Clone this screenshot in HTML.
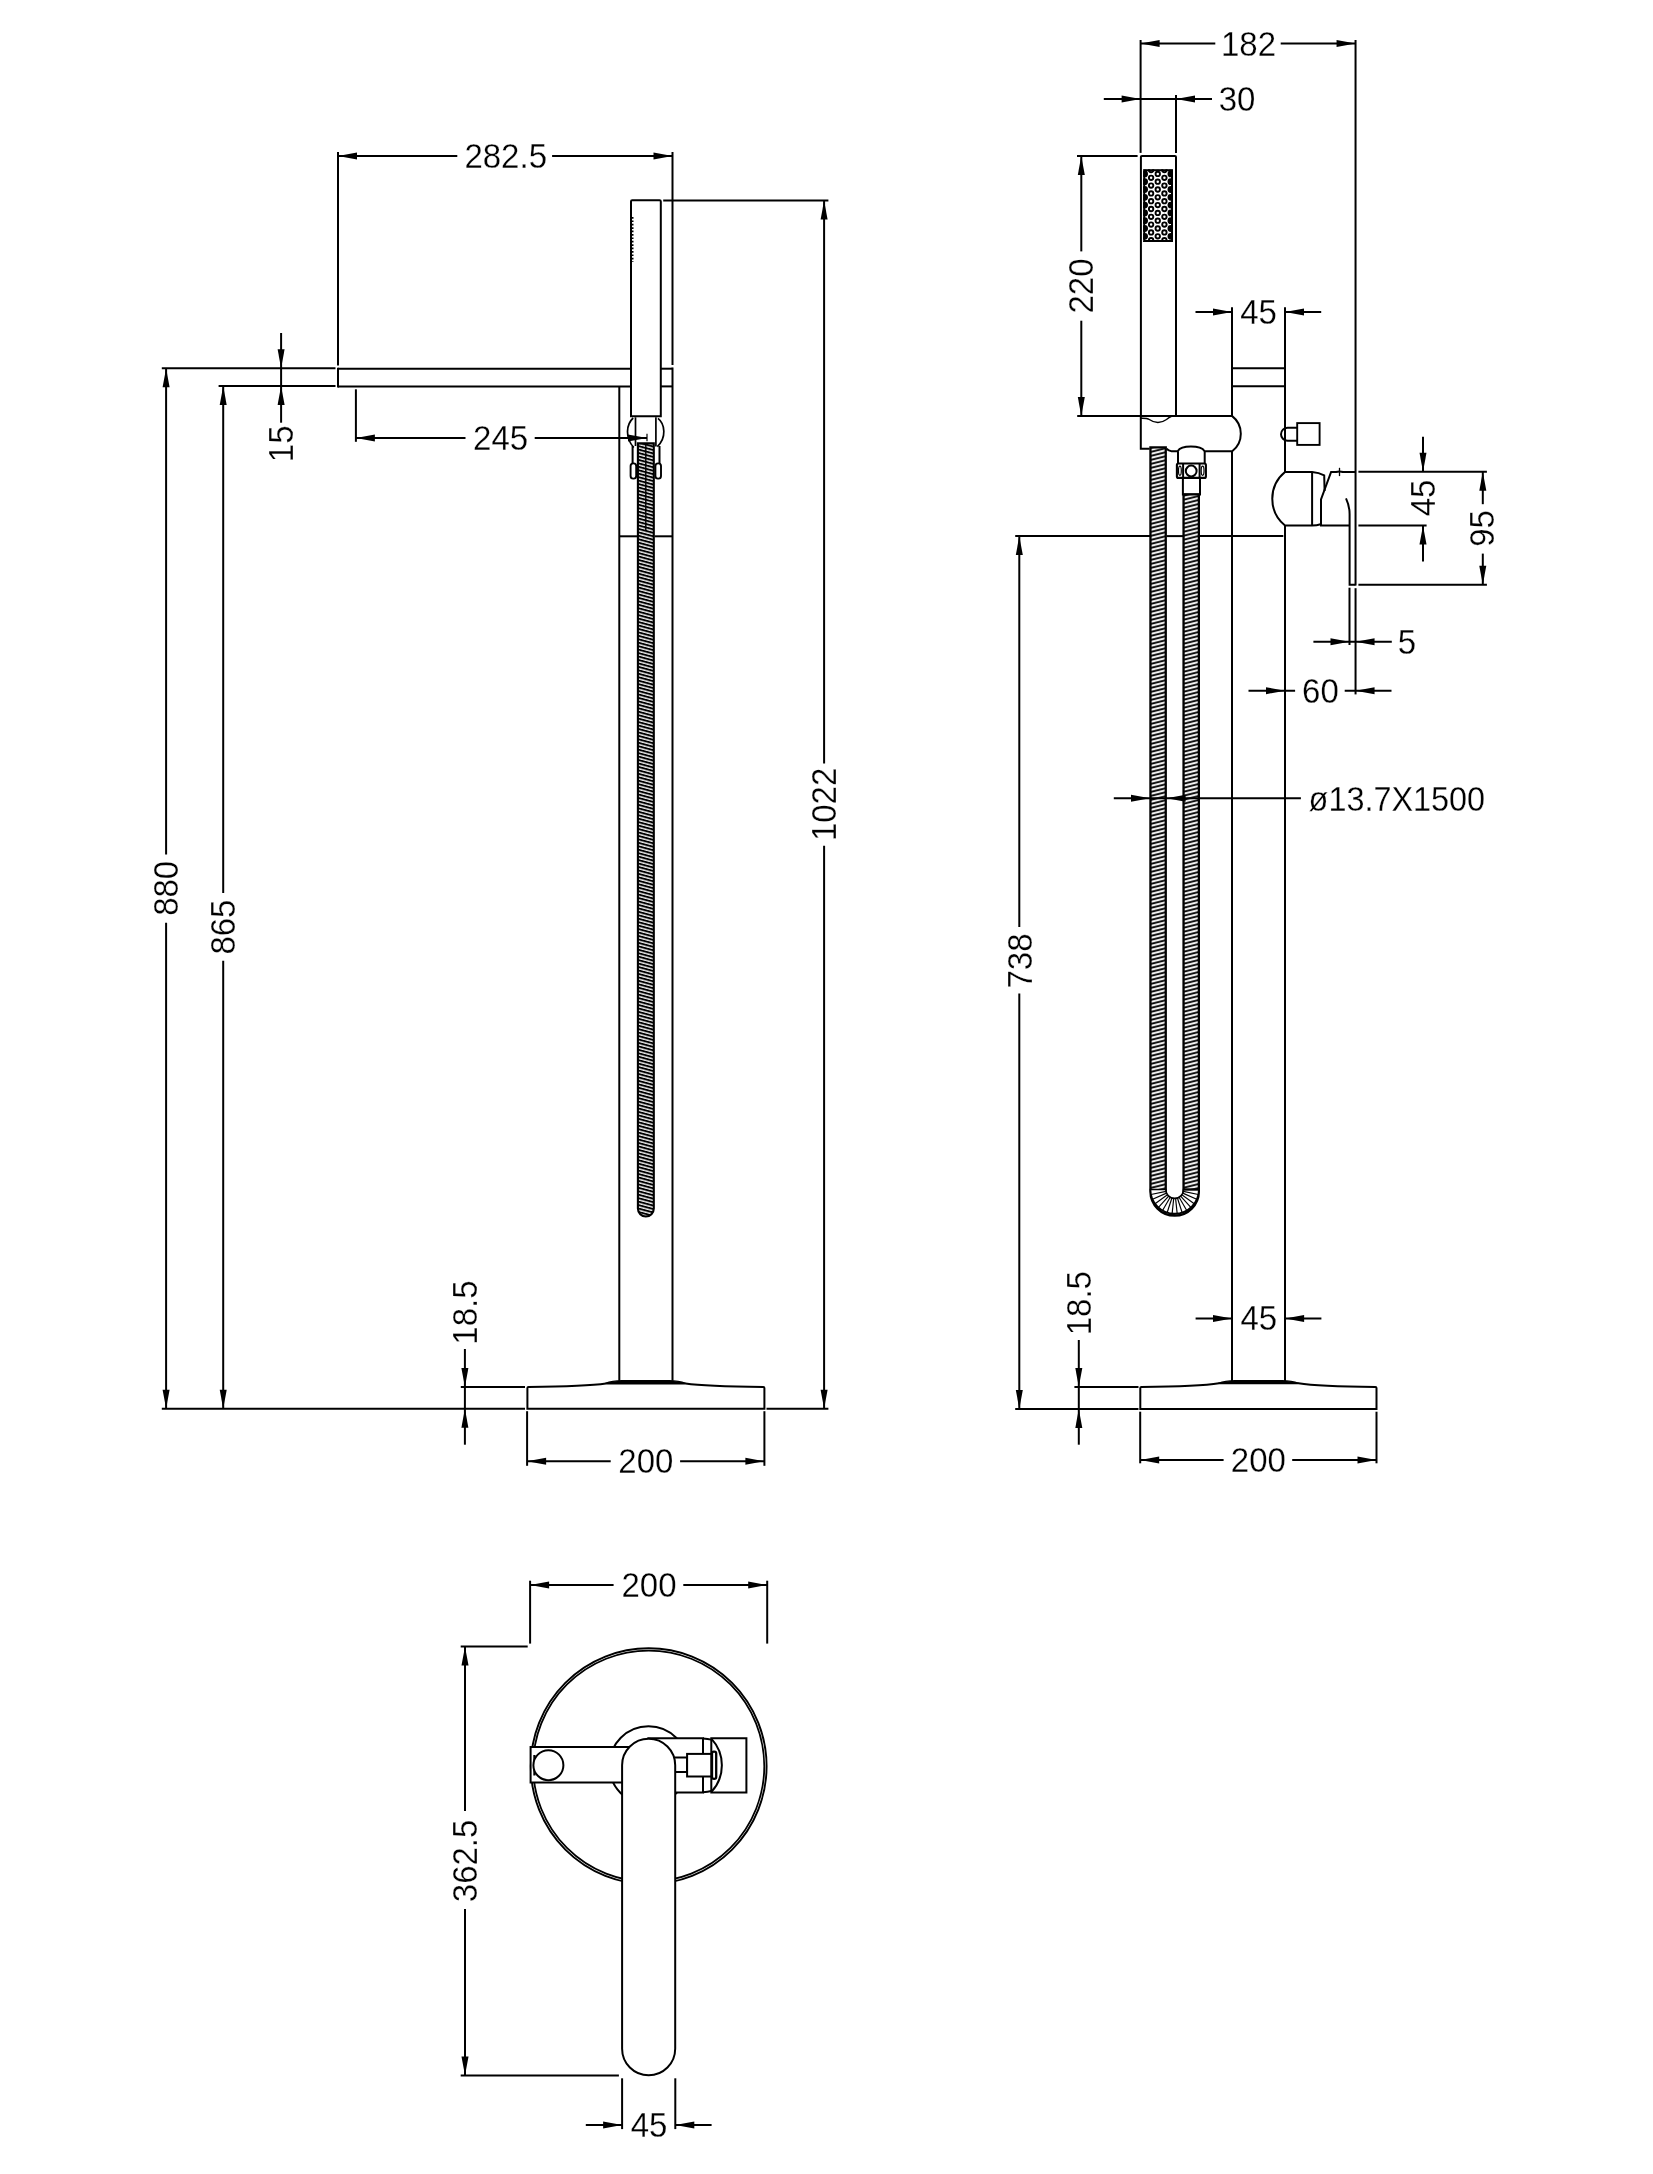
<!DOCTYPE html>
<html lang="en"><head><meta charset="utf-8"><title>Freestanding bath shower mixer - dimensions</title>
<style>
html,body{margin:0;padding:0;background:#fff}
body{width:1653px;height:2174px;overflow:hidden}
svg{display:block;filter:grayscale(1)}
.g{fill:none;stroke:#000;stroke-width:2;stroke-linecap:butt;stroke-linejoin:miter}
.ah{fill:#000;stroke:none}
text{font-family:"Liberation Sans",sans-serif;font-size:33px;fill:#000;stroke:#fff;stroke-width:0.25px;text-anchor:middle}
</style></head><body>
<svg role="img" aria-label="Dimension drawing of a freestanding bath shower mixer" width="1653" height="2174" viewBox="0 0 1653 2174">
<defs>
<pattern id="hA" width="8" height="3.45" patternUnits="userSpaceOnUse" patternTransform="translate(637 443) skewY(15)">
<rect width="8" height="3.45" fill="#000"/><rect y="0.3" width="8" height="1.35" fill="#fff"/>
</pattern>
<pattern id="hB" width="8" height="4" patternUnits="userSpaceOnUse" patternTransform="translate(1150 447) skewY(-14)">
<rect width="8" height="4" fill="#fff"/><rect y="0.2" width="8" height="1.95" fill="#000"/>
</pattern>
</defs>
<g class="g">
<!-- side elevation -->
<line x1="338" y1="368.7" x2="631" y2="368.7"/>
<line x1="661" y1="368.7" x2="672.5" y2="368.7"/>
<line x1="338" y1="386.4" x2="631" y2="386.4"/>
<line x1="661" y1="386.4" x2="672.5" y2="386.4"/>
<line x1="338" y1="367.7" x2="338" y2="387.4"/>
<line x1="619.3" y1="386" x2="619.3" y2="1380.7"/>
<line x1="672.5" y1="367.4" x2="672.5" y2="1380.7"/>
<line x1="619.3" y1="536.3" x2="637" y2="536.3"/>
<line x1="654.7" y1="536.3" x2="672.5" y2="536.3"/>
<path d="M631 416.3V201.5Q631 200.3 632.2 200.3H659.6Q660.8 200.3 660.8 201.5V416.3Z"/>
<line x1="632.7" y1="217" x2="632.7" y2="262" stroke-width="1.6" stroke-dasharray="1.7 1.7"/>
<path d="M633.2 418C626 424.5 625 438 633.8 447.5" stroke-width="1.7"/>
<path d="M658 418.4C665 424 666.8 437.5 657.3 446.6" stroke-width="1.7"/>
<line x1="635.5" y1="417.3" x2="635.5" y2="446" stroke-width="1.7"/>
<line x1="655.9" y1="417.3" x2="655.9" y2="446.5" stroke-width="1.7"/>
<line x1="632.6" y1="446" x2="632.6" y2="464"/>
<line x1="659.5" y1="446" x2="659.5" y2="464"/>
<rect x="630.6" y="463.4" width="5.6" height="15.2" rx="2.6" stroke-width="1.9"/>
<rect x="655.4" y="463.4" width="5.6" height="15.2" rx="2.6" stroke-width="1.9"/>
<path d="M637.9 443.4H653.8V1208.6A7.95 7.95 0 0 1 637.9 1208.6Z" fill="url(#hA)" stroke-width="2.1"/>
<line x1="645.8" y1="444" x2="645.8" y2="530" stroke-width="1.4"/>
<path d="M527.4 1408.7V1388Q527.4 1387 528.6 1386.9Q586.5 1386.3 606 1383.4H685.5Q705 1386.3 763.2 1386.9Q764.4 1387 764.4 1388V1408.7Z"/>
<path d="M605.5 1383.3Q612 1380.9 622 1380.7H669Q679 1380.9 685.5 1383.3Z" stroke-width="1.2" fill="#000"/>
<!-- side elevation dimensions -->
<line x1="338" y1="152" x2="338" y2="365.4"/>
<line x1="672.5" y1="152" x2="672.5" y2="365"/>
<line x1="338" y1="156" x2="457.3" y2="156"/>
<line x1="552.1" y1="156" x2="672.5" y2="156"/>
<polygon class="ah" points="338,156 357,152.5 357,159.5"/>
<polygon class="ah" points="672.5,156 653.5,152.5 653.5,159.5"/>
<text transform="translate(505.7 156.4) scale(1 1.04)" y="11.36">282.5</text>
<line x1="663.2" y1="200.4" x2="828.4" y2="200.4"/>
<line x1="766.5" y1="1408.7" x2="828.4" y2="1408.7"/>
<line x1="824.1" y1="200.4" x2="824.1" y2="763.4"/>
<line x1="824.1" y1="845.7" x2="824.1" y2="1408.7"/>
<polygon class="ah" points="824.1,200.4 820.6,219.4 827.6,219.4"/>
<polygon class="ah" points="824.1,1408.7 820.6,1389.7 827.6,1389.7"/>
<text transform="translate(824 804.4) rotate(-90) scale(1 1.04)" y="11.36">1022</text>
<line x1="161.8" y1="368.2" x2="335.5" y2="368.2"/>
<line x1="161.8" y1="1408.7" x2="525" y2="1408.7"/>
<line x1="166.1" y1="368.2" x2="166.1" y2="854.4"/>
<line x1="166.1" y1="922.8" x2="166.1" y2="1408.7"/>
<polygon class="ah" points="166.1,368.2 162.6,387.2 169.6,387.2"/>
<polygon class="ah" points="166.1,1408.7 162.6,1389.7 169.6,1389.7"/>
<text transform="translate(166.1 888.3) rotate(-90) scale(1 1.04)" y="11.36">880</text>
<line x1="218.6" y1="386" x2="335.5" y2="386"/>
<line x1="223.2" y1="386" x2="223.2" y2="892.9"/>
<line x1="223.2" y1="960.7" x2="223.2" y2="1408.7"/>
<polygon class="ah" points="223.2,386 219.7,405 226.7,405"/>
<polygon class="ah" points="223.2,1408.7 219.7,1389.7 226.7,1389.7"/>
<text transform="translate(223.3 927.1) rotate(-90) scale(1 1.04)" y="11.36">865</text>
<line x1="281.1" y1="333" x2="281.1" y2="422.7"/>
<polygon class="ah" points="281.1,368.2 277.6,349.2 284.6,349.2"/>
<polygon class="ah" points="281.1,386 277.6,405 284.6,405"/>
<text transform="translate(280.7 443.8) rotate(-90) scale(1 1.04)" y="11.36">15</text>
<line x1="355.9" y1="389.3" x2="355.9" y2="441.8"/>
<line x1="355.9" y1="438" x2="465.5" y2="438"/>
<line x1="534.7" y1="438" x2="647" y2="438"/>
<polygon class="ah" points="355.9,438 374.9,434.5 374.9,441.5"/>
<polygon class="ah" points="647,438 628,434.5 628,441.5"/>
<line x1="647" y1="433.8" x2="647" y2="441.2" stroke-width="1.2"/>
<text transform="translate(500.6 438.3) scale(1 1.04)" y="11.36">245</text>
<line x1="464.9" y1="1349" x2="464.9" y2="1444.7"/>
<polygon class="ah" points="464.9,1387 461.4,1368 468.4,1368"/>
<polygon class="ah" points="464.9,1408.7 461.4,1427.7 468.4,1427.7"/>
<line x1="460.8" y1="1387" x2="525" y2="1387"/>
<text transform="translate(465.4 1312.6) rotate(-90) scale(1 1.04)" y="11.36">18.5</text>
<line x1="527.1" y1="1411.2" x2="527.1" y2="1465.8"/>
<line x1="764.4" y1="1411.2" x2="764.4" y2="1465.8"/>
<line x1="527.1" y1="1461.3" x2="610.7" y2="1461.3"/>
<line x1="680.1" y1="1461.3" x2="764.4" y2="1461.3"/>
<polygon class="ah" points="527.1,1461.3 546.1,1457.8 546.1,1464.8"/>
<polygon class="ah" points="764.4,1461.3 745.4,1457.8 745.4,1464.8"/>
<text transform="translate(645.8 1461) scale(1 1.04)" y="11.36">200</text>
<!-- front elevation -->
<path d="M1140.9 416.1V157Q1140.9 155.9 1142 155.9H1174.9Q1176 155.9 1176 157V416.1"/>
<clipPath id="cp"><rect x="1143.2" y="169.2" width="29.8" height="72.8"/></clipPath>
<g clip-path="url(#cp)" stroke-width="1.9">
<rect x="1143.2" y="169.2" width="29.8" height="72.8" fill="#fff" stroke="none"/>
<circle cx="1144.6" cy="166.1" r="2.6" fill="#000" stroke-width="1.6"/>
<circle cx="1144.6" cy="173.9" r="2.6" fill="#000" stroke-width="1.6"/>
<circle cx="1144.6" cy="181.7" r="2.6" fill="#000" stroke-width="1.6"/>
<circle cx="1144.6" cy="189.5" r="2.6" fill="#000" stroke-width="1.6"/>
<circle cx="1144.6" cy="197.3" r="2.6" fill="#000" stroke-width="1.6"/>
<circle cx="1144.6" cy="205.1" r="2.6" fill="#000" stroke-width="1.6"/>
<circle cx="1144.6" cy="212.9" r="2.6" fill="#000" stroke-width="1.6"/>
<circle cx="1144.6" cy="220.7" r="2.6" fill="#000" stroke-width="1.6"/>
<circle cx="1144.6" cy="228.5" r="2.6" fill="#000" stroke-width="1.6"/>
<circle cx="1144.6" cy="236.3" r="2.6" fill="#000" stroke-width="1.6"/>
<circle cx="1144.6" cy="244.1" r="2.6" fill="#000" stroke-width="1.6"/>
<circle cx="1151.1" cy="170" r="2.2"/>
<circle cx="1151.1" cy="177.8" r="2.2"/>
<circle cx="1151.1" cy="185.6" r="2.2"/>
<circle cx="1151.1" cy="193.4" r="2.2"/>
<circle cx="1151.1" cy="201.2" r="2.2"/>
<circle cx="1151.1" cy="209" r="2.2"/>
<circle cx="1151.1" cy="216.8" r="2.2"/>
<circle cx="1151.1" cy="224.6" r="2.2"/>
<circle cx="1151.1" cy="232.4" r="2.2"/>
<circle cx="1151.1" cy="240.2" r="2.2"/>
<circle cx="1157.75" cy="166.1" r="2.2"/>
<circle cx="1157.75" cy="173.9" r="2.2"/>
<circle cx="1157.75" cy="181.7" r="2.2"/>
<circle cx="1157.75" cy="189.5" r="2.2"/>
<circle cx="1157.75" cy="197.3" r="2.2"/>
<circle cx="1157.75" cy="205.1" r="2.2"/>
<circle cx="1157.75" cy="212.9" r="2.2"/>
<circle cx="1157.75" cy="220.7" r="2.2"/>
<circle cx="1157.75" cy="228.5" r="2.2"/>
<circle cx="1157.75" cy="236.3" r="2.2"/>
<circle cx="1157.75" cy="244.1" r="2.2"/>
<circle cx="1164.4" cy="170" r="2.2"/>
<circle cx="1164.4" cy="177.8" r="2.2"/>
<circle cx="1164.4" cy="185.6" r="2.2"/>
<circle cx="1164.4" cy="193.4" r="2.2"/>
<circle cx="1164.4" cy="201.2" r="2.2"/>
<circle cx="1164.4" cy="209" r="2.2"/>
<circle cx="1164.4" cy="216.8" r="2.2"/>
<circle cx="1164.4" cy="224.6" r="2.2"/>
<circle cx="1164.4" cy="232.4" r="2.2"/>
<circle cx="1164.4" cy="240.2" r="2.2"/>
<circle cx="1170.9" cy="166.1" r="2.6" fill="#000" stroke-width="1.6"/>
<circle cx="1170.9" cy="173.9" r="2.6" fill="#000" stroke-width="1.6"/>
<circle cx="1170.9" cy="181.7" r="2.6" fill="#000" stroke-width="1.6"/>
<circle cx="1170.9" cy="189.5" r="2.6" fill="#000" stroke-width="1.6"/>
<circle cx="1170.9" cy="197.3" r="2.6" fill="#000" stroke-width="1.6"/>
<circle cx="1170.9" cy="205.1" r="2.6" fill="#000" stroke-width="1.6"/>
<circle cx="1170.9" cy="212.9" r="2.6" fill="#000" stroke-width="1.6"/>
<circle cx="1170.9" cy="220.7" r="2.6" fill="#000" stroke-width="1.6"/>
<circle cx="1170.9" cy="228.5" r="2.6" fill="#000" stroke-width="1.6"/>
<circle cx="1170.9" cy="236.3" r="2.6" fill="#000" stroke-width="1.6"/>
<circle cx="1170.9" cy="244.1" r="2.6" fill="#000" stroke-width="1.6"/>
</g>
<rect x="1144.2" y="170.2" width="27.8" height="70.8" stroke-width="2"/>
<line x1="1232" y1="307.2" x2="1232" y2="416.1"/>
<line x1="1232" y1="451.2" x2="1232" y2="1381.4"/>
<line x1="1285" y1="307.2" x2="1285" y2="472"/>
<line x1="1285" y1="525.5" x2="1285" y2="1381.4"/>
<line x1="1232" y1="368.2" x2="1285" y2="368.2"/>
<line x1="1232" y1="386.3" x2="1285" y2="386.3"/>
<path d="M1140.8 416.1H1232.2A22.2 22.2 0 0 1 1232.2 451.2H1204.7Q1201.5 446.6 1190.9 446.6Q1180.6 446.6 1177.6 451.2H1171.5Q1168.5 451.2 1166.6 448.7M1149.6 448.7H1140.8V416.1"/>
<path d="M1140.8 418.2Q1147 418 1149.3 419.5Q1158 425.6 1166.5 419.5Q1169 417.4 1171.5 416.4" stroke-width="1.4"/>
<line x1="1178" y1="451.2" x2="1178" y2="463.5"/>
<line x1="1204.7" y1="451.2" x2="1204.7" y2="463.5"/>
<rect x="1176.9" y="463.5" width="29" height="14.4" rx="1.5" stroke-width="2.1"/>
<line x1="1183.1" y1="463.5" x2="1183.1" y2="477.9"/>
<line x1="1199.6" y1="463.5" x2="1199.6" y2="477.9"/>
<circle cx="1191.2" cy="471" r="5.4"/>
<ellipse cx="1179.9" cy="470.7" rx="1.4" ry="4.6" stroke-width="1.2"/>
<ellipse cx="1202.6" cy="470.7" rx="1.4" ry="4.6" stroke-width="1.2"/>
<path d="M1182.9 477.9V494.4H1200V477.9"/>
<path d="M1150.45 447.4H1165.75V1191.5 A8.9 8.9 0 0 0 1183.55 1191.5V494.4H1198.85V1191.5A24.2 24.2 0 0 1 1150.45 1191.5Z" fill="url(#hB)" stroke-width="2.3"/>
<path d="M1150.45 1189.5 A24.2 24.2 0 0 0 1198.85 1189.5H1183.55A8.9 8.9 0 0 1 1165.75 1189.5Z" fill="#fff" stroke-width="1.7"/>
<line x1="1183.36" y1="1191.35" x2="1198.32" y2="1194.53" stroke-width="1.15"/>
<line x1="1182.78" y1="1193.12" x2="1196.76" y2="1199.34" stroke-width="1.15"/>
<line x1="1181.85" y1="1194.73" x2="1194.23" y2="1203.72" stroke-width="1.15"/>
<line x1="1180.61" y1="1196.11" x2="1190.84" y2="1207.48" stroke-width="1.15"/>
<line x1="1179.1" y1="1197.21" x2="1186.75" y2="1210.46" stroke-width="1.15"/>
<line x1="1177.4" y1="1197.96" x2="1182.13" y2="1212.52" stroke-width="1.15"/>
<line x1="1175.58" y1="1198.35" x2="1177.18" y2="1213.57" stroke-width="1.15"/>
<line x1="1173.72" y1="1198.35" x2="1172.12" y2="1213.57" stroke-width="1.15"/>
<line x1="1171.9" y1="1197.96" x2="1167.17" y2="1212.52" stroke-width="1.15"/>
<line x1="1170.2" y1="1197.21" x2="1162.55" y2="1210.46" stroke-width="1.15"/>
<line x1="1168.69" y1="1196.11" x2="1158.46" y2="1207.48" stroke-width="1.15"/>
<line x1="1167.45" y1="1194.73" x2="1155.07" y2="1203.72" stroke-width="1.15"/>
<line x1="1166.52" y1="1193.12" x2="1152.54" y2="1199.34" stroke-width="1.15"/>
<line x1="1165.94" y1="1191.35" x2="1150.98" y2="1194.53" stroke-width="1.15"/>
<line x1="1183.55" y1="1189.5" x2="1198.85" y2="1189.5" stroke-width="2.2"/>
<line x1="1015.2" y1="536.1" x2="1150" y2="536.1"/>
<line x1="1166.5" y1="536.1" x2="1183" y2="536.1"/>
<line x1="1199.5" y1="536.1" x2="1283.3" y2="536.1"/>
<path d="M1297.2 427.7H1287.5A6.5 6.5 0 0 0 1287.5 440.7H1297.2"/>
<rect x="1297.2" y="423.1" width="22.4" height="21.8" stroke-width="1.9"/>
<path d="M1285 472A34.5 34.5 0 0 0 1285 525.5H1312.1Q1317 525.4 1320.6 524.2M1285 472H1312.1Q1319 472.6 1324.2 475.4L1324.6 491"/>
<line x1="1312.1" y1="472" x2="1312.1" y2="525.5"/>
<path d="M1355.55 472H1343Q1339.5 470.8 1336 472H1331.1L1321 499.4V525.5H1349.5"/>
<line x1="1339.5" y1="467.8" x2="1339.5" y2="476.1" stroke-width="1.3"/>
<path d="M1346 498.3Q1349.6 506 1349.6 514V584.8H1355.55"/>
<path d="M1140.3 1408.9V1388Q1140.3 1387 1141.5 1386.9Q1199.5 1386.3 1219 1383.2H1298.5Q1318 1386.3 1375.3 1386.9Q1376.5 1387 1376.5 1388V1408.9Z"/>
<path d="M1218.5 1383.2Q1225 1381 1235 1380.7H1282Q1292 1381 1298.5 1383.2Z" stroke-width="1.2" fill="#000"/>
<!-- front elevation dimensions -->
<line x1="1140.6" y1="40" x2="1140.6" y2="152.9"/>
<line x1="1355.55" y1="40" x2="1355.55" y2="585.6"/>
<line x1="1355.55" y1="588.2" x2="1355.55" y2="694.4"/>
<line x1="1140.6" y1="43.5" x2="1215.3" y2="43.5"/>
<line x1="1280.7" y1="43.5" x2="1355.55" y2="43.5"/>
<polygon class="ah" points="1140.6,43.5 1159.6,40 1159.6,47"/>
<polygon class="ah" points="1355.55,43.5 1336.55,40 1336.55,47"/>
<text transform="translate(1248.5 44.3) scale(1 1.04)" y="11.36">182</text>
<line x1="1103.8" y1="99" x2="1212" y2="99"/>
<polygon class="ah" points="1140.6,99 1121.6,95.5 1121.6,102.5"/>
<polygon class="ah" points="1176,99 1195,95.5 1195,102.5"/>
<line x1="1176" y1="95.1" x2="1176" y2="152.9"/>
<text transform="translate(1237.1 99.3) scale(1 1.04)" y="11.36">30</text>
<line x1="1077" y1="156" x2="1137.6" y2="156"/>
<line x1="1077.2" y1="416.1" x2="1140.4" y2="416.1"/>
<line x1="1081.3" y1="156" x2="1081.3" y2="251.4"/>
<line x1="1081.3" y1="320.7" x2="1081.3" y2="416.1"/>
<polygon class="ah" points="1081.3,156 1077.8,175 1084.8,175"/>
<polygon class="ah" points="1081.3,416.1 1077.8,397.1 1084.8,397.1"/>
<text transform="translate(1081.1 286) rotate(-90) scale(1 1.04)" y="11.36">220</text>
<line x1="1195.5" y1="312" x2="1232" y2="312"/>
<line x1="1285" y1="312" x2="1321.2" y2="312"/>
<polygon class="ah" points="1232,312 1213,308.5 1213,315.5"/>
<polygon class="ah" points="1285,312 1304,308.5 1304,315.5"/>
<text transform="translate(1258.5 312.2) scale(1 1.04)" y="11.36">45</text>
<line x1="1358.4" y1="471.8" x2="1486.9" y2="471.8"/>
<line x1="1358.4" y1="525.6" x2="1426.6" y2="525.6"/>
<line x1="1358.4" y1="584.8" x2="1486.9" y2="584.8"/>
<line x1="1423" y1="436.7" x2="1423" y2="471.8"/>
<line x1="1423" y1="525.6" x2="1423" y2="561.6"/>
<polygon class="ah" points="1423,471.8 1419.5,452.8 1426.5,452.8"/>
<polygon class="ah" points="1423,525.6 1419.5,544.6 1426.5,544.6"/>
<text transform="translate(1423.4 498) rotate(-90) scale(1 1.04)" y="11.36">45</text>
<line x1="1482.8" y1="471.8" x2="1482.8" y2="504.2"/>
<line x1="1482.8" y1="553.6" x2="1482.8" y2="584.8"/>
<polygon class="ah" points="1482.8,471.8 1479.3,490.8 1486.3,490.8"/>
<polygon class="ah" points="1482.8,584.8 1479.3,565.8 1486.3,565.8"/>
<text transform="translate(1482.5 528.5) rotate(-90) scale(1 1.04)" y="11.36">95</text>
<line x1="1349.5" y1="587.7" x2="1349.5" y2="645"/>
<line x1="1313.4" y1="641.7" x2="1391.8" y2="641.7"/>
<polygon class="ah" points="1349.5,641.7 1330.5,638.2 1330.5,645.2"/>
<polygon class="ah" points="1355.55,641.7 1374.55,638.2 1374.55,645.2"/>
<text transform="translate(1407 642.2) scale(1 1.04)" y="11.36">5</text>
<line x1="1248.5" y1="690.7" x2="1295.1" y2="690.7"/>
<line x1="1344.7" y1="690.7" x2="1391.5" y2="690.7"/>
<polygon class="ah" points="1285,690.7 1266,687.2 1266,694.2"/>
<polygon class="ah" points="1355.55,690.7 1374.55,687.2 1374.55,694.2"/>
<text transform="translate(1320.4 691.2) scale(1 1.04)" y="11.36">60</text>
<line x1="1113.8" y1="798.3" x2="1300.9" y2="798.3"/>
<polygon class="ah" points="1150,798.3 1131,794.8 1131,801.8"/>
<polygon class="ah" points="1166.6,798.3 1185.6,794.8 1185.6,801.8"/>
<text transform="translate(1308.6 810.8) scale(1 1.04)" style="text-anchor:start" textLength="176.5" lengthAdjust="spacingAndGlyphs">ø13.7X1500</text>
<line x1="1019.3" y1="536.1" x2="1019.3" y2="927.1"/>
<line x1="1019.3" y1="993.6" x2="1019.3" y2="1408.9"/>
<polygon class="ah" points="1019.3,536.1 1015.8,555.1 1022.8,555.1"/>
<polygon class="ah" points="1019.3,1408.9 1015.8,1389.9 1022.8,1389.9"/>
<line x1="1015.2" y1="1408.9" x2="1138.5" y2="1408.9"/>
<text transform="translate(1019.7 961) rotate(-90) scale(1 1.04)" y="11.36">738</text>
<line x1="1078.8" y1="1340" x2="1078.8" y2="1444.7"/>
<polygon class="ah" points="1078.8,1386.9 1075.3,1367.9 1082.3,1367.9"/>
<polygon class="ah" points="1078.8,1408.9 1075.3,1427.9 1082.3,1427.9"/>
<line x1="1074.4" y1="1386.9" x2="1138.5" y2="1386.9"/>
<text transform="translate(1079 1303.2) rotate(-90) scale(1 1.04)" y="11.36">18.5</text>
<line x1="1195.6" y1="1318.4" x2="1232" y2="1318.4"/>
<line x1="1285.1" y1="1318.4" x2="1321.4" y2="1318.4"/>
<polygon class="ah" points="1232,1318.4 1213,1314.9 1213,1321.9"/>
<polygon class="ah" points="1285.1,1318.4 1304.1,1314.9 1304.1,1321.9"/>
<text transform="translate(1258.8 1318.5) scale(1 1.04)" y="11.36">45</text>
<line x1="1140.2" y1="1411.7" x2="1140.2" y2="1463.3"/>
<line x1="1376.5" y1="1411.7" x2="1376.5" y2="1463.3"/>
<line x1="1140.2" y1="1460" x2="1223.6" y2="1460"/>
<line x1="1292.2" y1="1460" x2="1376.5" y2="1460"/>
<polygon class="ah" points="1140.2,1460 1159.2,1456.5 1159.2,1463.5"/>
<polygon class="ah" points="1376.5,1460 1357.5,1456.5 1357.5,1463.5"/>
<text transform="translate(1258.3 1460) scale(1 1.04)" y="11.36">200</text>
<!-- plan view -->
<circle cx="648.7" cy="1766.2" r="117.9" stroke-width="1.9"/>
<circle cx="648.7" cy="1766.2" r="115.6" stroke-width="1.8"/>
<circle cx="648.5" cy="1765.5" r="39.2"/>
<path d="M648.5 1738.2H703V1792.4H660Z" fill="#fff"/>
<path d="M711.3 1738.2H746.4V1792.4H711.3Z" fill="#fff"/>
<path d="M703 1738.4Q708 1738.6 711.3 1739.6M703 1792.2Q708 1792 711.3 1791"/>
<path d="M711.3 1738.6A39 39 0 0 1 711.3 1792"/>
<path d="M530.6 1747H640V1782.6H530.6Z" fill="#fff"/>
<line x1="534.4" y1="1755" x2="534.4" y2="1775.5" stroke-width="2.2"/>
<circle cx="548.4" cy="1765.2" r="15" fill="#fff"/>
<path d="M670 1757.6H687.1V1772H670" />
<rect x="687.1" y="1753.9" width="24.2" height="22.6" fill="#fff"/>
<rect x="712" y="1751.6" width="4.2" height="27.2" rx="1.8" fill="#fff" stroke-width="2.3"/>
<path d="M622.1 2048.8V1765.2A26.55 26.55 0 0 1 675.2 1765.2V2048.8A26.55 26.55 0 0 1 622.1 2048.8Z" fill="#fff"/>
<!-- plan view dimensions -->
<line x1="530.1" y1="1580.7" x2="530.1" y2="1643.6"/>
<line x1="767.2" y1="1580.7" x2="767.2" y2="1643.6"/>
<line x1="530.1" y1="1585" x2="613.6" y2="1585"/>
<line x1="683.3" y1="1585" x2="767.2" y2="1585"/>
<polygon class="ah" points="530.1,1585 549.1,1581.5 549.1,1588.5"/>
<polygon class="ah" points="767.2,1585 748.2,1581.5 748.2,1588.5"/>
<text transform="translate(649 1585.6) scale(1 1.04)" y="11.36">200</text>
<line x1="460.7" y1="1646.5" x2="527.7" y2="1646.5"/>
<line x1="460.7" y1="2075.4" x2="618.9" y2="2075.4"/>
<line x1="465" y1="1646.5" x2="465" y2="1811"/>
<line x1="465" y1="1909" x2="465" y2="2075.4"/>
<polygon class="ah" points="465,1646.5 461.5,1665.5 468.5,1665.5"/>
<polygon class="ah" points="465,2075.4 461.5,2056.4 468.5,2056.4"/>
<text transform="translate(465.2 1860.9) rotate(-90) scale(1 1.04)" y="11.36">362.5</text>
<line x1="622.1" y1="2078.3" x2="622.1" y2="2129.1"/>
<line x1="675.3" y1="2078.3" x2="675.3" y2="2129.1"/>
<line x1="585.8" y1="2125" x2="622.1" y2="2125"/>
<line x1="675.3" y1="2125" x2="711.6" y2="2125"/>
<polygon class="ah" points="622.1,2125 603.1,2121.5 603.1,2128.5"/>
<polygon class="ah" points="675.3,2125 694.3,2121.5 694.3,2128.5"/>
<text transform="translate(649 2125.2) scale(1 1.04)" y="11.36">45</text>
</g>
</svg>
</body></html>
